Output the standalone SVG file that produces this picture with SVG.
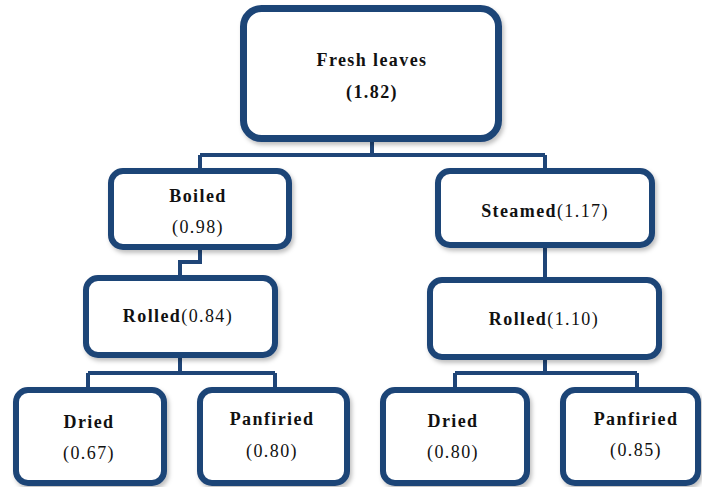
<svg xmlns="http://www.w3.org/2000/svg" width="702" height="487" viewBox="0 0 702 487">
<defs>
<filter id="sh" x="-10%" y="-10%" width="130%" height="130%">
<feDropShadow dx="2" dy="3" stdDeviation="2" flood-color="#000" flood-opacity="0.25"/>
</filter>
<style>
.box{fill:#fff;stroke:#1f4577;stroke-width:6;filter:url(#sh)}
.big{stroke-width:7}
.con{fill:none;stroke:#1f4577;stroke-width:4;stroke-linejoin:miter}
text{font-family:"Liberation Serif","Times New Roman",serif;font-size:18px;fill:#111;text-anchor:middle;letter-spacing:1.4px}
.b{font-weight:bold}
</style>
</defs>
<rect width="702" height="487" fill="#fff"/>
<g id="connectors">
<path class="con" d="M372 142V155M200 155H545M200 155V169M545 155V169"/>
<path class="con" d="M200 249V262H180V276"/>
<path class="con" d="M180 357V373M88 373H275M88 373V388M275 373V388"/>
<path class="con" d="M545 247V278"/>
<path class="con" d="M545 359V373M455 373H637M455 373V388M637 373V388"/>
</g>
<g id="fresh">
<rect class="box big" x="243.5" y="8.5" width="255" height="130" rx="18"/>
<text x="372" y="66" class="b">Fresh leaves</text>
<text x="372" y="98" class="b">(1.82)</text>
</g>
<g id="boiled">
<rect class="box" x="111" y="171" width="178" height="76" rx="12"/>
<text x="198" y="202" class="b">Boiled</text>
<text x="198" y="233">(0.98)</text>
</g>
<g id="rolled1">
<rect class="box" x="86" y="278" width="189" height="77" rx="12"/>
<text x="178" y="322"><tspan class="b">Rolled</tspan>(0.84)</text>
</g>
<g id="dried1">
<rect class="box" x="16" y="390" width="148" height="93" rx="12"/>
<text x="89" y="428" class="b">Dried</text>
<text x="89" y="459">(0.67)</text>
</g>
<g id="pan1">
<rect class="box" x="200" y="390" width="147" height="93" rx="12"/>
<text x="272" y="425" class="b">Panfiried</text>
<text x="272" y="457">(0.80)</text>
</g>
<g id="steamed">
<rect class="box" x="438" y="171" width="214" height="74" rx="12"/>
<text x="545" y="217"><tspan class="b">Steamed</tspan>(1.17)</text>
</g>
<g id="rolled2">
<rect class="box" x="430" y="280" width="229" height="77" rx="12"/>
<text x="544" y="325"><tspan class="b">Rolled</tspan>(1.10)</text>
</g>
<g id="dried2">
<rect class="box" x="383" y="390" width="144" height="93" rx="12"/>
<text x="453" y="427" class="b">Dried</text>
<text x="453" y="458">(0.80)</text>
</g>
<g id="pan2">
<rect class="box" x="563" y="390" width="135" height="93" rx="12"/>
<text x="636" y="425" class="b">Panfiried</text>
<text x="636" y="456">(0.85)</text>
</g>
</svg>
